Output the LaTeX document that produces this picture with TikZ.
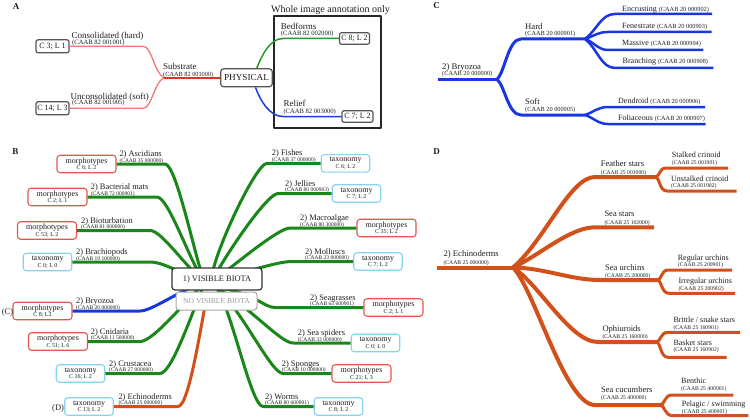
\documentclass[tikz,border=0pt]{standalone}
\usepackage{fontspec}
\setmainfont{Liberation Serif}
\newcommand\setfs[1]{\fontsize{#1}{#1}\selectfont}
\definecolor{Apink}{RGB}{240,120,120}
\definecolor{Ared}{RGB}{228,50,35}
\definecolor{Agreen}{RGB}{40,150,40}
\definecolor{Ablue}{RGB}{30,60,220}
\definecolor{Bgreen}{RGB}{25,135,25}
\definecolor{Cblue}{RGB}{25,55,225}
\definecolor{Dorange}{RGB}{210,80,25}
\definecolor{boxred}{RGB}{226,88,76}
\definecolor{boxblue}{RGB}{135,210,240}
\definecolor{dgray}{RGB}{85,85,85}
\definecolor{txt}{RGB}{30,30,30}
\begin{document}
\begin{tikzpicture}[x=1pt,y=-1pt,line join=round,
  lab/.style={anchor=base west,inner sep=0pt,text=txt},
  plet/.style={inner sep=0pt,text=txt,font=\bfseries\setfs{9}},
  abox/.style={draw=dgray,line width=1.2pt,rounded corners=2pt,fill=white,inner sep=0pt,text=txt,font=\setfs{8}},
  mbox/.style={draw=boxred,line width=1.1pt,rounded corners=3pt,fill=white,inner sep=0pt,minimum width=59pt,minimum height=17.5pt,align=center,text=txt,font=\setfs{8}},
  tbox/.style={draw=boxblue,line width=1.1pt,rounded corners=3pt,fill=white,inner sep=0pt,minimum width=48.5pt,minimum height=17.5pt,align=center,text=txt,font=\setfs{8}},
  vbox/.style={draw=black!80,line width=1.2pt,rounded corners=3pt,fill=white,inner sep=0pt,minimum width=90pt,minimum height=22pt,text=txt,font=\setfs{8.4}},
  nbox/.style={draw=black!35,line width=1pt,rounded corners=3pt,fill=white,inner sep=0pt,minimum width=81pt,minimum height=18pt,text=black!40,font=\setfs{7.6}},
  lnApink/.style={draw=Apink,line width=1.3pt},
  lnAred/.style={draw=Ared,line width=2pt},
  lnAgreen/.style={draw=Agreen,line width=1.5pt},
  lnAblue/.style={draw=Ablue,line width=1.5pt},
  brG/.style={draw=Bgreen,line width=3pt},
  brB/.style={draw=Cblue,line width=3pt},
  brO/.style={draw=Dorange,line width=3pt},
  cmain/.style={draw=Cblue,line width=3pt},
  csub/.style={draw=Cblue,line width=2.5pt},
  dmain/.style={draw=Dorange,line width=4pt},
  dsub/.style={draw=Dorange,line width=3pt},
  frm/.style={draw=black!85,line width=1.2pt,inner sep=0pt,minimum width=107pt,minimum height=112pt}
]
\useasboundingbox (0,0) rectangle (750,420);

%% ================= Panel A =================
\node[plet] (pA) at (16,6.7) {A};
\node[frm] (frameA) at (327.5,72) {};
\node[anchor=base,inner sep=0pt,text=txt,font=\setfs{10}] (wtitle) at (330.5,12.3) {Whole image annotation only};

\coordinate (aJ) at (164,77.8);
\coordinate (a1B) at (143,46.3);
\coordinate (a2B) at (143,108.3);
\coordinate (bedB) at (283,38.5);
\coordinate (relB) at (283,116.5);

\node[abox,minimum width=33pt,minimum height=13pt] (a31) at (52.5,46.3) {C 3; L 1};
\node[abox,minimum width=33pt,minimum height=13pt] (a143) at (52.5,108.3) {C 14; L 3};
\node[abox,minimum width=51.6pt,minimum height=18pt,rounded corners=3pt,font=\setfs{9.2}] (phys) at (246.5,77.8) {PHYSICAL};
\node[abox,minimum width=30pt,minimum height=11.5pt] (c82) at (354.5,38.5) {C 8; L 2};
\node[abox,minimum width=31pt,minimum height=11.5pt] (c72) at (357.5,116.5) {C 7; L 2};

\draw[lnApink] (a31) -- (a1B) .. controls +(9,0) and (154,73) .. (aJ);
\draw[lnApink] (a143) -- (a2B) .. controls +(9,0) and (154,82) .. (aJ);
\draw[lnAred] (aJ) -- (phys);
\draw[lnAgreen] ([xshift=10.3pt]phys.north) .. controls +(5,-13) and (270,38.5) .. (bedB) -- (c82);
\draw[lnAblue] ([xshift=9pt]phys.south) .. controls +(5,14) and (270,116.5) .. (relB) -- (c72);

\node[lab,font=\setfs{9}] (aL1) at (71.5,38.3) {Consolidated (hard)};
\node[lab,font=\setfs{6.6}] (aC1) at (72,44.3) {(CAAB 82 001001)};
\node[lab,font=\setfs{9}] (aL2) at (70.5,99.3) {Unconsolidated (soft)};
\node[lab,font=\setfs{6.6}] (aC2) at (72,105) {(CAAB 82 001005)};
\node[lab,font=\setfs{9}] (aL3) at (163,69.6) {Substrate};
\node[lab,font=\setfs{6.3}] (aC3) at (163,76.1) {(CAAB 82 001000)};
\node[lab,font=\setfs{9}] (aL4) at (280.7,29.3) {Bedforms};
\node[lab,font=\setfs{6.6}] (aC4) at (280.7,36) {(CAAB 82 002000)};
\node[lab,font=\setfs{9}] (aL5) at (283.3,106.7) {Relief};
\node[lab,font=\setfs{6.6}] (aC5) at (283.3,113.3) {(CAAB 82 003000)};

%% ================= Panel C =================
\node[plet] (pC) at (436.5,5.5) {C};
\coordinate (cStart) at (437.5,79.3);
\coordinate (cHub) at (497,79.3);
\coordinate (hardB) at (521,39);
\coordinate (hardH) at (585,39);
\coordinate (softB) at (521,115);
\coordinate (softH) at (585,115);
\coordinate (encE) at (712,14);
\coordinate (fenE) at (711.7,32);
\coordinate (masE) at (703.3,50);
\coordinate (braE) at (713.3,68);
\coordinate (denE) at (705,107);
\coordinate (folE) at (705.7,124);
\draw[cmain] (cStart) -- (cHub);
\draw[cmain] (cHub) .. controls (505,72) and (508,39) .. (hardB) -- (hardH);
\draw[cmain] (cHub) .. controls (505,86) and (508,115) .. (softB) -- (softH);
\draw[csub] (hardH) .. controls (597,30) and (601,14) .. (615,14) -- (encE);
\draw[csub] (hardH) .. controls (594,36) and (598,32) .. (608,32) -- (fenE);
\draw[csub] (hardH) .. controls (594,42) and (598,50) .. (608,50) -- (masE);
\draw[csub] (hardH) .. controls (597,48) and (601,68) .. (615,68) -- (braE);
\draw[csub] (softH) .. controls (594,112) and (598,107) .. (608,107) -- (denE);
\draw[csub] (softH) .. controls (594,118) and (598,124) .. (608,124) -- (folE);

\node[lab,font=\setfs{8.7}] (cL1) at (442,70) {2) Bryozoa};
\node[lab,font=\setfs{6.3}] (cC1) at (442,76) {(CAAB 20 000000)};
\node[lab,font=\setfs{8.7}] (cL2) at (525,29.3) {Hard};
\node[lab,font=\setfs{6.3}] (cC2) at (525,36) {(CAAB 20 000901)};
\node[lab,font=\setfs{8.7}] (cL3) at (525,104) {Soft};
\node[lab,font=\setfs{6.3}] (cC3) at (525,111.7) {(CAAB 20 000905)};
\node[lab,font=\setfs{8}] (cS1) at (622,11.7) {Encrusting {\setfs{6.3}(CAAB 20 000902)}};
\node[lab,font=\setfs{8}] (cS2) at (622,28.3) {Fenestrate {\setfs{6.3}(CAAB 20 000903)}};
\node[lab,font=\setfs{8}] (cS3) at (622,46) {Massive {\setfs{6.3}(CAAB 20 000904)}};
\node[lab,font=\setfs{8}] (cS4) at (622.5,64) {Branching {\setfs{6.3}(CAAB 20 000908)}};
\node[lab,font=\setfs{8}] (cS5) at (618,103.3) {Dendroid {\setfs{6.3}(CAAB 20 000906)}};
\node[lab,font=\setfs{8}] (cS6) at (618,120.7) {Foliaceous {\setfs{6.3}(CAAB 20 000907)}};

%% ================= Panel D =================
\node[plet] (pD) at (436.5,151.5) {D};
\coordinate (dStart) at (437,267.5);
\coordinate (dHub) at (513,267.5);
\coordinate (fsB) at (595,177);   \coordinate (fsH) at (655,177);
\coordinate (ssB) at (595,227.3); \coordinate (ssE) at (654,227.3);
\coordinate (suB) at (600,280);   \coordinate (suH) at (657,280);
\coordinate (opB) at (598,342);   \coordinate (opH) at (656,342);
\coordinate (scB) at (595,405);   \coordinate (scH) at (660,405);
\coordinate (stE) at (728,168);   \coordinate (unE) at (736.7,191);
\coordinate (reE) at (732,270);   \coordinate (irE) at (735,293.3);
\coordinate (brE) at (740,332.3); \coordinate (baE) at (726.7,357.3);
\coordinate (beE) at (733.3,395); \coordinate (peE) at (748.3,415.7);

\draw[dsub] (fsH) .. controls (660,177) and (659,168) .. (666,168) -- (stE);
\draw[dsub] (fsH) .. controls (660,177) and (659,191) .. (667,191) -- (unE);
\draw[dsub] (suH) .. controls (662,280) and (661,270) .. (668,270) -- (reE);
\draw[dsub] (suH) .. controls (662,280) and (661,293.3) .. (669,293.3) -- (irE);
\draw[dsub] (opH) .. controls (661,342) and (660,332.3) .. (668,332.3) -- (brE);
\draw[dsub] (opH) .. controls (661,342) and (660,357.3) .. (668,357.3) -- (baE);
\draw[dsub] (scH) .. controls (665,405) and (664,395) .. (672,395) -- (beE);
\draw[dsub] (scH) .. controls (665,405) and (664,415.7) .. (673,415.7) -- (peE);
\draw[dmain] (dStart) -- (dHub);
\draw[dmain] (dHub) .. controls (545,240) and (570,177) .. (fsB) -- (fsH);
\draw[dmain] (dHub) .. controls (540,255) and (570,227.3) .. (ssB) -- (ssE);
\draw[dmain] (dHub) .. controls (545,268) and (570,280) .. (suB) -- (suH);
\draw[dmain] (dHub) .. controls (540,285) and (570,342) .. (opB) -- (opH);
\draw[dmain] (dHub) .. controls (535,290) and (565,405) .. (scB) -- (scH);

\node[lab,font=\setfs{8.7}] (dL0) at (443.3,256.7) {2) Echinoderms};
\node[lab,font=\setfs{5.7}] (dC0) at (443.3,264) {(CAAB 25 000000)};
\node[lab,font=\setfs{8.5}] (dL1) at (600.7,166.7) {Feather stars};
\node[lab,font=\setfs{5.7}] (dC1) at (600.7,174) {(CAAB 25 001000)};
\node[lab,font=\setfs{8.5}] (dL2) at (604.3,216.7) {Sea stars};
\node[lab,font=\setfs{5.7}] (dC2) at (604.3,224) {(CAAB 25 102000)};
\node[lab,font=\setfs{8.5}] (dL3) at (605,270.5) {Sea urchins};
\node[lab,font=\setfs{5.7}] (dC3) at (605,277) {(CAAB 25 200000)};
\node[lab,font=\setfs{8.5}] (dL4) at (602.3,331.7) {Ophiuroids};
\node[lab,font=\setfs{5.7}] (dC4) at (602.3,338.3) {(CAAB 25 160000)};
\node[lab,font=\setfs{8.5}] (dL5) at (601,392.7) {Sea cucumbers};
\node[lab,font=\setfs{5.7}] (dC5) at (601,399.3) {(CAAB 25 400000)};
\node[lab,font=\setfs{8}] (dS1) at (671.7,157.3) {Stalked crinoid};
\node[lab,font=\setfs{5.7}] (dT1) at (671.7,164) {(CAAB 25 001901)};
\node[lab,font=\setfs{8}] (dS2) at (671,181) {Unstalked crinoid};
\node[lab,font=\setfs{5.7}] (dT2) at (671,187.7) {(CAAB 25 001902)};
\node[lab,font=\setfs{8}] (dS3) at (677.7,260) {Regular urchins};
\node[lab,font=\setfs{5.7}] (dT3) at (677.7,266.8) {(CAAB 25 200901)};
\node[lab,font=\setfs{8}] (dS4) at (678.3,283.3) {Irregular urchins};
\node[lab,font=\setfs{5.7}] (dT4) at (678.3,290) {(CAAB 25 200902)};
\node[lab,font=\setfs{8}] (dS5) at (673.3,322.3) {Brittle / snake stars};
\node[lab,font=\setfs{5.7}] (dT5) at (673.3,329) {(CAAB 25 160901)};
\node[lab,font=\setfs{8}] (dS6) at (673.3,345) {Basket stars};
\node[lab,font=\setfs{5.7}] (dT6) at (673.3,351.7) {(CAAB 25 160902)};
\node[lab,font=\setfs{8}] (dS7) at (681,383.3) {Benthic};
\node[lab,font=\setfs{5.7}] (dT7) at (681,390.7) {(CAAB 25 400901)};
\node[lab,font=\setfs{8}] (dS8) at (681.7,406.7) {Pelagic / swimming};
\node[lab,font=\setfs{5.7}] (dT8) at (681.7,413.3) {(CAAB 25 400901)};

%% ================= Panel B =================
\node[plet] (pB) at (15.5,152) {B};
\coordinate (hubL) at (205,282);
\coordinate (hubO) at (208,292);
\coordinate (hubR) at (212,282);
\coordinate (hubRB) at (216,287);

% leaf boxes (left)
\node[mbox] (asc) at (86.5,164) {morphotypes\\[-1.5pt]{\setfs{6}C 6; L 2}};
\node[mbox] (bac) at (57.5,197) {morphotypes\\[-1.5pt]{\setfs{6}C 2; L 1}};
\node[mbox] (bio) at (47,230.5) {morphotypes\\[-1.5pt]{\setfs{6}C 53; L 2}};
\node[tbox] (bra) at (47.5,262) {taxonomy\\[-1.5pt]{\setfs{6}C 0; L 0}};
\node[mbox] (bry) at (42.5,311) {morphotypes\\[-1.5pt]{\setfs{6}C 8; L2}};
\node[mbox] (cni) at (58,341.5) {morphotypes\\[-1.5pt]{\setfs{6}C 51; L 6}};
\node[tbox] (cru) at (80.5,373.5) {taxonomy\\[-1.5pt]{\setfs{6}C 16; L 2}};
\node[tbox] (ech) at (89,406.5) {taxonomy\\[-1.5pt]{\setfs{6}C 13; L 2}};
% leaf boxes (right)
\node[tbox] (fis) at (345.5,163.3) {taxonomy\\[-1.5pt]{\setfs{6}C 6; L 2}};
\node[tbox] (jel) at (356.5,193.5) {taxonomy\\[-1.5pt]{\setfs{6}C 7; L 2}};
\node[mbox] (mac) at (386.5,228) {morphotypes\\[-1.5pt]{\setfs{6}C 35; L 2}};
\node[tbox] (mol) at (378,261.5) {taxonomy\\[-1.5pt]{\setfs{6}C 7; L 2}};
\node[mbox] (sea) at (393.5,307.5) {morphotypes\\[-1.5pt]{\setfs{6}C 2; L 1}};
\node[tbox] (spi) at (375.5,343) {taxonomy\\[-1.5pt]{\setfs{6}C 0; L 0}};
\node[mbox] (spo) at (361.5,373.5) {morphotypes\\[-1.5pt]{\setfs{6}C 21; L 3}};
\node[tbox] (wor) at (338.5,406.5) {taxonomy\\[-1.5pt]{\setfs{6}C 8; L 2}};

% bend points
\coordinate (ascB) at (165,164);
\coordinate (bacB) at (157,197);
\coordinate (bioB) at (150,230.5);
\coordinate (braB) at (150,262);
\coordinate (bryB) at (140,311);
\coordinate (cniB) at (140,341.5);
\coordinate (cruB) at (160,373.5);
\coordinate (echB) at (178,406.5);
\coordinate (fisB) at (267,163.3);
\coordinate (jelB) at (278,193.5);
\coordinate (macB) at (290,228);
\coordinate (molB) at (292,261.5);
\coordinate (seaB) at (275,307.5);
\coordinate (spiB) at (293,343);
\coordinate (spoB) at (283,373.5);
\coordinate (worB) at (263,406.5);

% connectors
\draw[brG] (asc) -- (ascB) .. controls +(12,0) and (197,268) .. (hubL);
\draw[brG] (bac) -- (bacB) .. controls +(12,0) and (192,268) .. (hubL);
\draw[brG] (bio) -- (bioB) .. controls +(12,0) and (186,268) .. (hubL);
\draw[brG] (bra) -- (braB) .. controls +(12,0) and (174,270) .. (hubL);
\draw[brB] (bry) -- (bryB) .. controls +(12,0) and (178,291) .. (hubL);
\draw[brG] (cni) -- (cniB) .. controls +(12,0) and (178,310) .. (hubL);
\draw[brG] (cru) -- (cruB) .. controls +(12,0) and (193,310) .. (hubL);
\draw[brO] (ech) -- (echB) .. controls +(12,0) and (203,310) .. (hubO);
\draw[brG] (fis) -- (fisB) .. controls +(-12,0) and (207,268) .. (hubR);
\draw[brG] (jel) -- (jelB) .. controls +(-12,0) and (217,268) .. (hubR);
\draw[brG] (mac) -- (macB) .. controls +(-12,0) and (231,268) .. (hubR);
\draw[brG] (mol) -- (molB) .. controls +(-12,0) and (258,268) .. (hubR);
\draw[brG] (sea) -- (seaB) .. controls +(-12,0) and (258,294) .. (hubRB);
\draw[brG] (spi) -- (spiB) .. controls +(-12,0) and (253,310) .. (hubRB);
\draw[brG] (spo) -- (spoB) .. controls +(-12,0) and (242,310) .. (hubRB);
\draw[brG] (wor) -- (worB) .. controls +(-12,0) and (232,310) .. (hubRB);

% central boxes
\node[vbox] (vis) at (217,279) {1) VISIBLE BIOTA};
\node[nbox] (novis) at (216.5,301) {NO VISIBLE BIOTA};

% branch labels (left)
\node[lab,font=\setfs{8.4}] (ascL) at (119.3,156.5) {2) Ascidians};
\node[lab,font=\setfs{5.5}] (ascC) at (119.3,162) {(CAAB 35 000000)};
\node[lab,font=\setfs{8.4}] (bacL) at (90.7,189.5) {2) Bacterial mats};
\node[lab,font=\setfs{5.5}] (bacC) at (90.7,195) {(CAAB 72 000901)};
\node[lab,font=\setfs{8.4}] (bioL) at (81,223) {2) Bioturbation};
\node[lab,font=\setfs{5.5}] (bioC) at (81,228.5) {(CAAB 81 000000)};
\node[lab,font=\setfs{8.4}] (braL) at (76,254.5) {2) Brachiopods};
\node[lab,font=\setfs{5.5}] (braC) at (76,260) {(CAAB 19 100000)};
\node[lab,font=\setfs{8.4}] (bryL) at (76,303.5) {2) Bryozoa};
\node[lab,font=\setfs{5.5}] (bryC) at (76,309) {(CAAB 20 000000)};
\node[lab,font=\setfs{8.4}] (cniL) at (90.7,334) {2) Cnidaria};
\node[lab,font=\setfs{5.5}] (cniC) at (90.7,339.5) {(CAAB 11 500000)};
\node[lab,font=\setfs{8.4}] (cruL) at (109,366) {2) Crustacea};
\node[lab,font=\setfs{5.5}] (cruC) at (109,371.5) {(CAAB 27 000000)};
\node[lab,font=\setfs{8.4}] (echL) at (118.3,399) {2) Echinoderms};
\node[lab,font=\setfs{5.5}] (echC) at (118.3,404.5) {(CAAB 25 000000)};
\node[lab,font=\setfs{8.5}] (refC) at (1.7,314.5) {(C)};
\node[lab,font=\setfs{8.5}] (refD) at (52,410) {(D)};
% branch labels (right)
\node[lab,font=\setfs{8.4}] (fisL) at (271.7,155.8) {2) Fishes};
\node[lab,font=\setfs{5.5}] (fisC) at (271.7,161.3) {(CAAB 37 000000)};
\node[lab,font=\setfs{8.4}] (jelL) at (285,186) {2) Jellies};
\node[lab,font=\setfs{5.5}] (jelC) at (285,191.5) {(CAAB 80 000903)};
\node[lab,font=\setfs{8.4}] (macL) at (300,220.5) {2) Macroalgae};
\node[lab,font=\setfs{5.5}] (macC) at (300,226) {(CAAB 80 300000)};
\node[lab,font=\setfs{8.4}] (molL) at (305,254) {2) Molluscs};
\node[lab,font=\setfs{5.5}] (molC) at (305,259.5) {(CAAB 23 000000)};
\node[lab,font=\setfs{8.4}] (seaL) at (310,300) {2) Seagrasses};
\node[lab,font=\setfs{5.5}] (seaC) at (310,305.5) {(CAAB 63 600901)};
\node[lab,font=\setfs{8.4}] (spiL) at (297.7,335.5) {2) Sea spiders};
\node[lab,font=\setfs{5.5}] (spiC) at (297.7,341) {(CAAB 33 000000)};
\node[lab,font=\setfs{8.4}] (spoL) at (281.7,366) {2) Sponges};
\node[lab,font=\setfs{5.5}] (spoC) at (281.7,371.5) {(CAAB 10 000000)};
\node[lab,font=\setfs{8.4}] (worL) at (265,399) {2) Worms};
\node[lab,font=\setfs{5.5}] (worC) at (265,404.5) {(CAAB 80 600901)};
\end{tikzpicture}
\end{document}
